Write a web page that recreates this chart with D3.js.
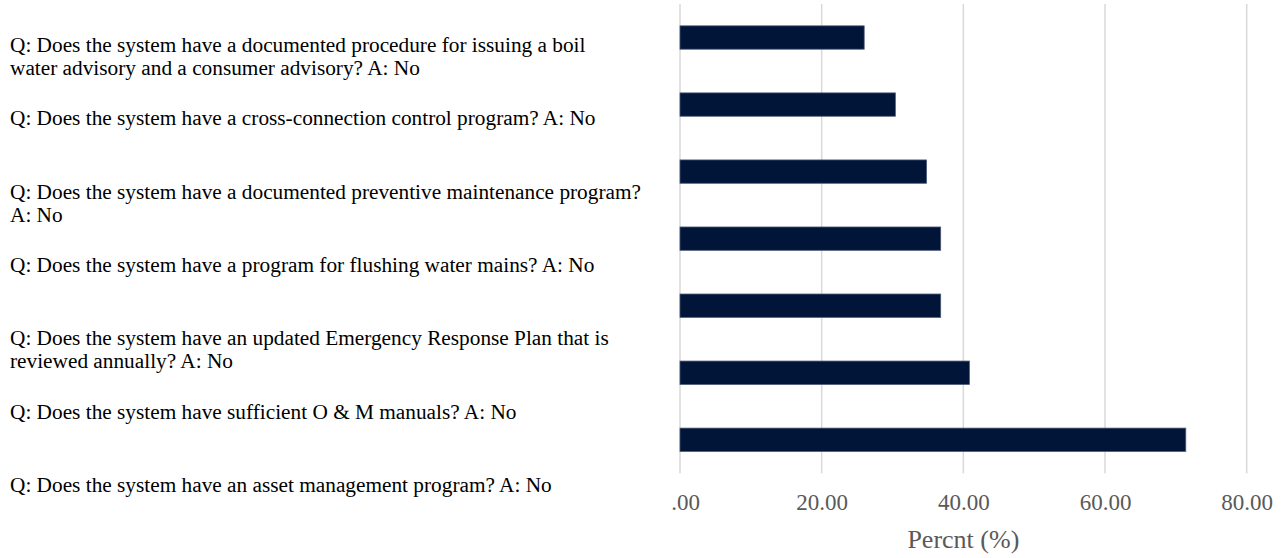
<!DOCTYPE html>
<html>
<head>
<meta charset="utf-8">
<script src="https://cdn.jsdelivr.net/npm/d3@7"></script>
<style>
  html, body { margin: 0; padding: 0; background: #ffffff; }
  svg { display: block; }
</style>
</head>
<body>
<div id="chart"></div>
<script>
// ---- data ----
const categories = [
  "Q: Does the system have a documented procedure for issuing a boil\nwater advisory and a consumer advisory? A: No",
  "Q: Does the system have a cross-connection control program? A: No",
  "Q: Does the system have a documented preventive maintenance program?\nA: No",
  "Q: Does the system have a program for flushing water mains? A: No",
  "Q: Does the system have an updated Emergency Response Plan that is\nreviewed annually? A: No",
  "Q: Does the system have sufficient O & M manuals? A: No",
  "Q: Does the system have an asset management program? A: No"
];
const values = [26.0, 30.4, 34.8, 36.8, 36.8, 40.85, 71.4];
const tickValues = [0, 20, 40, 60, 80];
const tickLabels = [".00", "20.00", "40.00", "60.00", "80.00"];
const axisTitle = "Percnt (%)";

// ---- layout ----
const W = 1286, H = 558;
const plot = { left: 680, right: 1246.7, top: 4, bottom: 473.3 };

const svg = d3.select("#chart").append("svg")
  .attr("width", W).attr("height", H);

const x = d3.scaleLinear().domain([0, 80]).range([plot.left, plot.right]);
const y = d3.scaleBand().domain(categories)
  .range([plot.top, plot.bottom])
  .paddingInner(0.652).paddingOuter(0.326);

// label column positions (first-line baselines)
const yLabel = d3.scalePoint().domain(categories).range([52, 492]);

// gridlines
svg.append("g").selectAll("line").data(tickValues).join("line")
  .attr("x1", d => x(d)).attr("x2", d => x(d))
  .attr("y1", plot.top).attr("y2", plot.bottom)
  .attr("stroke", "#d9d9d9").attr("stroke-width", 1.5);

// bars
svg.append("g").selectAll("rect").data(categories).join("rect")
  .attr("x", x(0))
  .attr("y", d => y(d))
  .attr("width", (d, i) => x(values[i]) - x(0))
  .attr("height", y.bandwidth())
  .attr("fill", "#001538")
  .attr("stroke", "#4a5775")
  .attr("stroke-width", 0.8);

// x axis tick labels
const xAxis = d3.axisBottom(x).tickValues(tickValues)
  .tickFormat((d, i) => tickLabels[i]).tickSize(0).tickPadding(0);
const gx = svg.append("g").attr("transform", `translate(0, 493)`).call(xAxis);
gx.select(".domain").remove();
gx.selectAll("text")
  .attr("dy", null).attr("y", 17)
  .attr("dx", (d, i) => i === 0 ? 5 : 0)
  .attr("font-family", "'Liberation Serif', 'Times New Roman', serif")
  .attr("font-size", 23)
  .attr("fill", "#595959");

// axis title
svg.append("text")
  .attr("x", (plot.left + plot.right) / 2)
  .attr("y", 548)
  .attr("text-anchor", "middle")
  .attr("font-family", "'Liberation Serif', 'Times New Roman', serif")
  .attr("font-size", 26)
  .attr("fill", "#595959")
  .text(axisTitle);

// category labels
const lg = svg.append("g")
  .attr("font-family", "'Liberation Serif', 'Times New Roman', serif")
  .attr("font-size", 21.3)
  .attr("fill", "#000000");
lg.selectAll("text").data(categories).join("text")
  .attr("x", 10)
  .attr("y", d => yLabel(d))
  .each(function(d) {
    const t = d3.select(this);
    d.split("\n").forEach((line, k) => {
      t.append("tspan").attr("x", 10).attr("dy", k === 0 ? 0 : 23).text(line);
    });
  });
</script>
</body>
</html>
